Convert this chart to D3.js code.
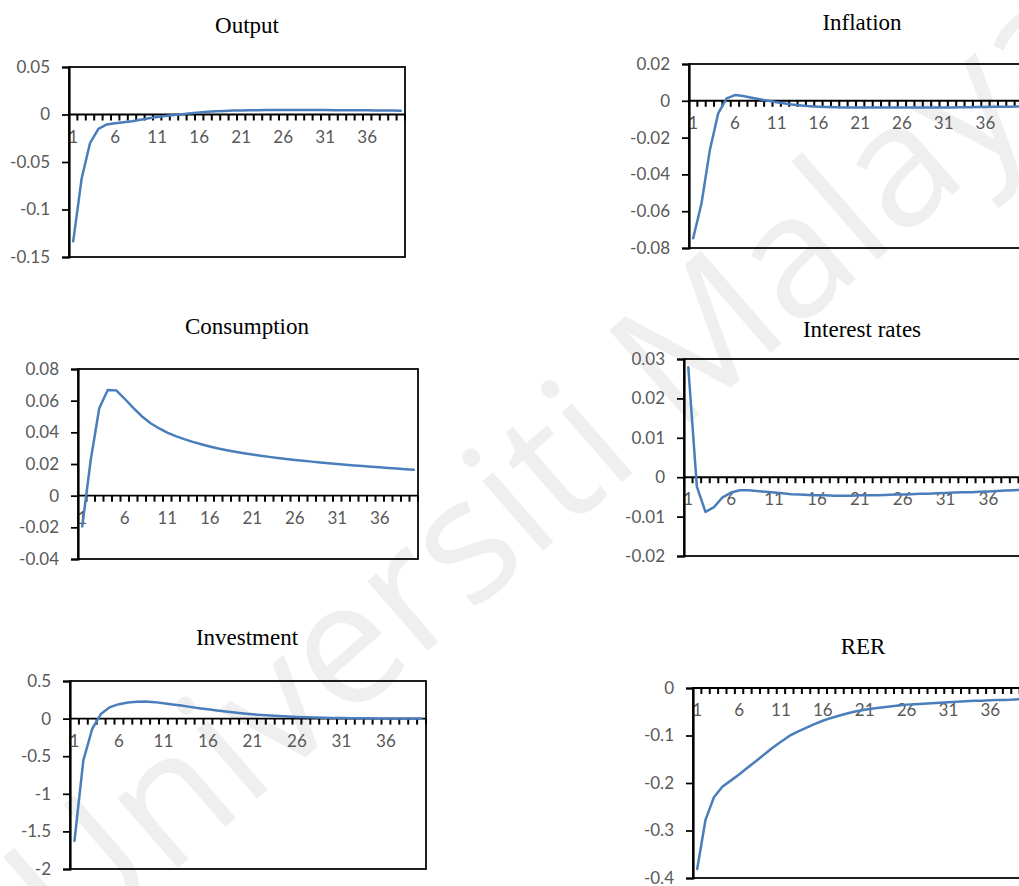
<!DOCTYPE html>
<html>
<head>
<meta charset="utf-8">
<script src="https://cdn.jsdelivr.net/npm/d3@7"></script>
<style>
  html, body { margin: 0; padding: 0; background: #ffffff; }
  svg { display: block; }
</style>
</head>
<body>
<svg id="chart" width="1019" height="886"></svg>
<script>
// Impulse responses over 40 periods
const periods = [1,2,3,4,5,6,7,8,9,10,11,12,13,14,15,16,17,18,19,20,
                 21,22,23,24,25,26,27,28,29,30,31,32,33,34,35,36,37,38,39,40];
const periodLabels = [1, 6, 11, 16, 21, 26, 31, 36];

const output = [-0.1335,-0.0677,-0.0302,-0.0151,-0.0105,-0.0091,-0.0081,-0.0070,-0.0056,-0.0040,
                -0.0026,-0.0015,-0.0006,0.0004,0.0013,0.0022,0.0029,0.0034,0.0038,0.0041,
                0.0043,0.0045,0.0046,0.0047,0.0047,0.0047,0.0047,0.0047,0.0047,0.0047,
                0.0047,0.0046,0.0046,0.0045,0.0045,0.0044,0.0043,0.0042,0.0041,0.0040];

const inflation = [-0.0747,-0.0557,-0.0267,-0.0068,0.0013,0.0031,0.0026,0.0017,0.0008,0.0000,
                   -0.0008,-0.0015,-0.0021,-0.0026,-0.0029,-0.0032,-0.0034,-0.0035,-0.0036,-0.0037,
                   -0.0037,-0.0037,-0.0037,-0.0037,-0.0037,-0.0037,-0.0037,-0.0037,-0.0037,-0.0037,
                   -0.0036,-0.0036,-0.0035,-0.0035,-0.0034,-0.0034,-0.0033,-0.0033,-0.0032,-0.0031];

const consumption = [-0.0194,0.0227,0.0552,0.0668,0.0665,0.0612,0.0555,0.0502,0.0459,0.0426,
                     0.0398,0.0376,0.0357,0.0340,0.0325,0.0311,0.0298,0.0287,0.0277,0.0268,
                     0.0260,0.0252,0.0245,0.0238,0.0232,0.0226,0.0220,0.0215,0.0210,0.0205,
                     0.0200,0.0196,0.0191,0.0187,0.0183,0.0179,0.0175,0.0171,0.0167,0.0163];

const interestRates = [0.0279,-0.0024,-0.0088,-0.0076,-0.0051,-0.0039,-0.0033,-0.0033,-0.0035,-0.0037,
                       -0.0039,-0.0041,-0.0043,-0.0044,-0.0045,-0.0046,-0.0046,-0.0047,-0.0047,-0.0047,
                       -0.0046,-0.0046,-0.0046,-0.0045,-0.0044,-0.0044,-0.0043,-0.0042,-0.0042,-0.0041,
                       -0.0040,-0.0039,-0.0038,-0.0038,-0.0037,-0.0036,-0.0035,-0.0034,-0.0033,-0.0032];

const investment = [-1.625,-0.555,-0.135,0.066,0.153,0.192,0.213,0.224,0.226,0.219,
                    0.205,0.189,0.173,0.156,0.139,0.123,0.107,0.093,0.080,0.068,
                    0.057,0.048,0.040,0.033,0.027,0.022,0.018,0.014,0.011,0.009,
                    0.007,0.005,0.004,0.003,0.002,0.001,0.001,0.000,0.000,0.000];

const rer = [-0.381,-0.277,-0.230,-0.208,-0.195,-0.182,-0.168,-0.154,-0.140,-0.126,
             -0.113,-0.101,-0.092,-0.084,-0.076,-0.069,-0.063,-0.058,-0.053,-0.049,
             -0.046,-0.043,-0.041,-0.039,-0.037,-0.035,-0.034,-0.033,-0.032,-0.031,
             -0.030,-0.029,-0.028,-0.027,-0.027,-0.026,-0.025,-0.025,-0.024,-0.023];

// Value-axis tick labels for each panel
const outputTicks = [-0.15, -0.1, -0.05, 0, 0.05];
const inflationTicks = [-0.08, -0.06, -0.04, -0.02, 0, 0.02];
const consumptionTicks = [-0.04, -0.02, 0, 0.02, 0.04, 0.06, 0.08];
const interestTicks = [-0.02, -0.01, 0, 0.01, 0.02, 0.03];
const investmentTicks = [-2, -1.5, -1, -0.5, 0, 0.5];
const rerTicks = [-0.4, -0.3, -0.2, -0.1, 0];

// Panel layout (plot box and title anchor)
const panels = [
  { title: "Output",         values: output,        ticks: outputTicks,      box: {x: 69,  y: 67,  w: 336, h: 190}, titleAt: [247, 33] },
  { title: "Inflation",      values: inflation,     ticks: inflationTicks,   box: {x: 689, y: 64,  w: 334, h: 184}, titleAt: [862, 30] },
  { title: "Consumption",    values: consumption,   ticks: consumptionTicks, box: {x: 78,  y: 369, w: 340, h: 190}, titleAt: [247, 334] },
  { title: "Interest rates", values: interestRates, ticks: interestTicks,    box: {x: 684, y: 359, w: 343, h: 197}, titleAt: [862, 337] },
  { title: "Investment",     values: investment,    ticks: investmentTicks,  box: {x: 70,  y: 681, w: 356, h: 188}, titleAt: [247, 645] },
  { title: "RER",            values: rer,           ticks: rerTicks,         box: {x: 693, y: 688, w: 335, h: 190}, titleAt: [863, 654] }
];

const LINE_COLOR = "#4a7ebb";
const LABEL_COLOR = "#595959";
const LABEL_FONT = "Lato, 'Open Sans', sans-serif";
const TITLE_FONT = "'Liberation Serif', 'Times New Roman', serif";

const svg = d3.select("#chart");

// Background watermark
svg.append("text")
  .attr("transform", "translate(560,475) rotate(-41)")
  .attr("text-anchor", "middle")
  .attr("dominant-baseline", "middle")
  .attr("font-family", "'Open Sans', sans-serif")
  .attr("font-size", 172)
  .attr("fill", "#efefef")
  .text("Universiti Malaya");

function drawPanel(p) {
  const b = p.box;
  const g = svg.append("g");

  const x = d3.scaleBand().domain(periods).range([b.x, b.x + b.w]).paddingInner(0).paddingOuter(0);
  const y = d3.scaleLinear().domain([d3.min(p.ticks), d3.max(p.ticks)]).range([b.y + b.h, b.y]);
  const bw = x.bandwidth();
  const y0 = y(0);

  // Title
  g.append("text")
    .attr("x", p.titleAt[0]).attr("y", p.titleAt[1])
    .attr("text-anchor", "middle")
    .attr("font-family", TITLE_FONT)
    .attr("font-size", 23)
    .attr("fill", "#000")
    .text(p.title);

  // Category labels under the zero line
  g.selectAll("text.cat")
    .data(periodLabels)
    .join("text")
    .attr("class", "cat")
    .attr("x", d => x(d) + bw / 2)
    .attr("y", y0 + 28)
    .attr("text-anchor", "middle")
    .attr("font-family", LABEL_FONT)
    .attr("font-size", 17)
    .attr("fill", LABEL_COLOR)
    .text(d => d);

  // Plot frame
  g.append("rect")
    .attr("x", b.x).attr("y", b.y)
    .attr("width", b.w).attr("height", b.h)
    .attr("fill", "none")
    .attr("stroke", "#000")
    .attr("stroke-width", 1.75);

  // Value axis
  const yAxis = d3.axisLeft(y)
    .tickValues(p.ticks)
    .tickSize(7)
    .tickPadding(12)
    .tickFormat(d => String(d));
  const ya = g.append("g").attr("transform", `translate(${b.x},0)`).call(yAxis);
  ya.select(".domain").attr("stroke", "#000").attr("stroke-width", 2.2);
  ya.selectAll(".tick line").attr("stroke", "#000").attr("stroke-width", 1.75);
  ya.selectAll(".tick text")
    .attr("font-family", LABEL_FONT)
    .attr("font-size", 17)
    .attr("fill", LABEL_COLOR);

  // Category axis along zero, tick marks between categories
  const bounds = periods.map(k => x(k)).concat([b.x + b.w]);
  g.append("line")
    .attr("x1", b.x).attr("x2", b.x + b.w)
    .attr("y1", y0).attr("y2", y0)
    .attr("stroke", "#000").attr("stroke-width", 1.9);
  g.selectAll("line.ctick")
    .data(bounds)
    .join("line")
    .attr("class", "ctick")
    .attr("x1", d => d).attr("x2", d => d)
    .attr("y1", y0).attr("y2", y0 + 6)
    .attr("stroke", "#000").attr("stroke-width", 2);

  // Response line
  const line = d3.line()
    .x((d, i) => x(periods[i]) + bw / 2)
    .y(d => y(d));
  g.append("path")
    .datum(p.values)
    .attr("d", line)
    .attr("fill", "none")
    .attr("stroke", LINE_COLOR)
    .attr("stroke-width", 2.5)
    .attr("stroke-linejoin", "round")
    .attr("stroke-linecap", "round");
}

panels.forEach(drawPanel);
</script>
</body>
</html>
